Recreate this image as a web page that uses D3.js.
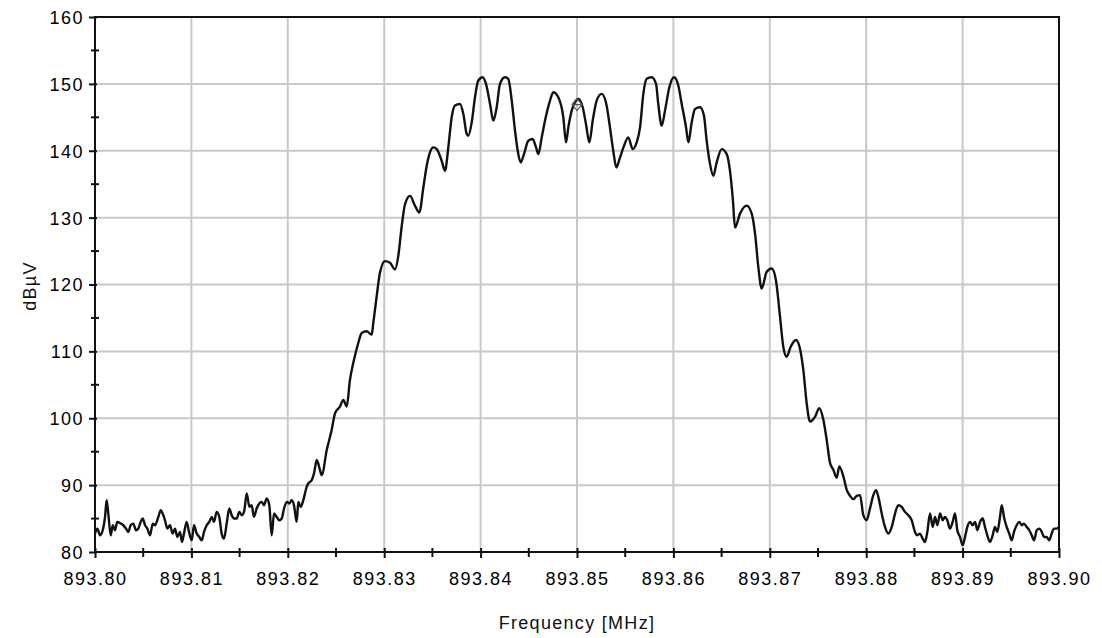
<!DOCTYPE html>
<html>
<head>
<meta charset="utf-8">
<script src="https://cdn.jsdelivr.net/npm/d3@7"></script>
<style>
  body { margin: 0; background: #fff; }
  .tick text { font-family: "Liberation Sans", Arial, sans-serif; font-size: 18px; letter-spacing: 1.5px; fill: #000; }
  .title { font-family: "Liberation Sans", Arial, sans-serif; font-size: 18px; letter-spacing: 1.3px; fill: #111; }
</style>
</head>
<body>
<div id="chart"></div>
<script>
// Spectrum trace (frequency in MHz, level in dBuV)
var freqs = [
  893.80000, 893.80024, 893.80052, 893.80080, 893.80104, 893.80121, 893.80138, 893.80163, 893.80184, 893.80207,
  893.80231, 893.80267, 893.80294, 893.80322, 893.80345, 893.80370, 893.80397, 893.80425, 893.80449, 893.80474,
  893.80495, 893.80519, 893.80543, 893.80571, 893.80599, 893.80622, 893.80657, 893.80682, 893.80702, 893.80726,
  893.80750, 893.80778, 893.80806, 893.80830, 893.80854, 893.80882, 893.80902, 893.80923, 893.80951, 893.80975,
  893.81003, 893.81027, 893.81055, 893.81082, 893.81107, 893.81131, 893.81159, 893.81186, 893.81211, 893.81234,
  893.81262, 893.81289, 893.81314, 893.81338, 893.81366, 893.81393, 893.81418, 893.81442, 893.81470, 893.81497,
  893.81522, 893.81546, 893.81574, 893.81601, 893.81625, 893.81649, 893.81677, 893.81704, 893.81729, 893.81753,
  893.81781, 893.81808, 893.81833, 893.81857, 893.81885, 893.81912, 893.81937, 893.81961, 893.81989, 893.82016,
  893.82040, 893.82064, 893.82092, 893.82109, 893.82134, 893.82161, 893.82196, 893.82213, 893.82248, 893.82272,
  893.82300, 893.82334, 893.82352, 893.82404, 893.82455, 893.82490, 893.82541, 893.82576, 893.82611, 893.82645,
  893.82679, 893.82731, 893.82767, 893.82818, 893.82870, 893.82887, 893.82922, 893.82956, 893.83008, 893.83060,
  893.83112, 893.83146, 893.83182, 893.83216, 893.83268, 893.83320, 893.83364, 893.83406, 893.83441, 893.83475,
  893.83509, 893.83545, 893.83596, 893.83631, 893.83665, 893.83700, 893.83734, 893.83786, 893.83821, 893.83856,
  893.83872, 893.83908, 893.83942, 893.83976, 893.84022, 893.84056, 893.84098, 893.84132, 893.84167, 893.84201,
  893.84253, 893.84287, 893.84323, 893.84357, 893.84391, 893.84416, 893.84450, 893.84495, 893.84540, 893.84575,
  893.84599, 893.84634, 893.84668, 893.84720, 893.84754, 893.84806, 893.84858, 893.84886, 893.84910, 893.84945,
  893.84979, 893.85013, 893.85059, 893.85093, 893.85128, 893.85163, 893.85204, 893.85256, 893.85304, 893.85337,
  893.85376, 893.85408, 893.85441, 893.85482, 893.85532, 893.85578, 893.85619, 893.85654, 893.85688, 893.85723,
  893.85775, 893.85820, 893.85843, 893.85879, 893.85913, 893.85958, 893.86006, 893.86051, 893.86086, 893.86131,
  893.86155, 893.86190, 893.86224, 893.86276, 893.86317, 893.86345, 893.86380, 893.86414, 893.86449, 893.86501,
  893.86553, 893.86587, 893.86618, 893.86639, 893.86691, 893.86760, 893.86812, 893.86847, 893.86881, 893.86916,
  893.86968, 893.87020, 893.87064, 893.87106, 893.87140, 893.87175, 893.87217, 893.87272, 893.87313, 893.87348,
  893.87383, 893.87417, 893.87469, 893.87514, 893.87555, 893.87590, 893.87625, 893.87659, 893.87694, 893.87721,
  893.87763, 893.87798, 893.87832, 893.87866, 893.87902, 893.87936, 893.87970, 893.88005, 893.88039, 893.88074,
  893.88102, 893.88126, 893.88161, 893.88195, 893.88229, 893.88265, 893.88299, 893.88333, 893.88368, 893.88402,
  893.88437, 893.88472, 893.88506, 893.88530, 893.88558, 893.88586, 893.88610, 893.88634, 893.88662, 893.88690,
  893.88714, 893.88738, 893.88766, 893.88794, 893.88817, 893.88841, 893.88869, 893.88897, 893.88921, 893.88945,
  893.88973, 893.89001, 893.89025, 893.89049, 893.89077, 893.89105, 893.89129, 893.89153, 893.89181, 893.89209,
  893.89232, 893.89256, 893.89284, 893.89312, 893.89336, 893.89360, 893.89388, 893.89406, 893.89429, 893.89457,
  893.89484, 893.89509, 893.89533, 893.89561, 893.89588, 893.89613, 893.89637, 893.89665, 893.89692, 893.89717,
  893.89741, 893.89769, 893.89796, 893.89821, 893.89844, 893.89872, 893.89899, 893.89924, 893.89948, 893.89976,
  893.90000
];

var levels = [
  82.75, 83.5, 82.5, 83.25, 85.25, 87.75, 85.75, 82.5, 84, 83.25,
  84.5, 84.25, 84, 83.5, 83, 84, 84.25, 83.25, 83.5, 84.5,
  85, 84, 83.5, 82.5, 84.25, 84, 85.25, 86.25, 85.75, 84.75,
  83.5, 84, 82.75, 83.5, 82.25, 83, 81.5, 82.75, 84.5, 83,
  81.75, 84, 82.75, 82.25, 81.75, 83, 84, 84.5, 85.25, 84.5,
  86, 85.25, 82.75, 82, 84.25, 86.5, 85.5, 85, 85, 86,
  85.5, 86, 88.75, 86.75, 87, 85.25, 86.5, 87.25, 87.5, 87,
  88, 87, 82.5, 85.75, 85.25, 84.75, 85, 86.5, 87.5, 87.25,
  87.75, 87, 84.5, 87.5, 86.75, 87.75, 89.75, 90.25, 90.75, 91.75,
  93.75, 92.25, 91.5, 95.25, 98.25, 100.75, 101.75, 102.75, 101.75, 105.75,
  108.25, 111.25, 112.75, 113, 112.5, 114.25, 118.25, 121.75, 123.5, 123.25,
  122.25, 124.25, 128.75, 132, 133.25, 131.75, 130.75, 134.5, 137.75, 139.75,
  140.5, 140.25, 138.5, 137, 140.5, 145, 146.75, 147, 145.5, 142.5,
  142.25, 144.25, 148, 150.5, 151, 150, 147, 144.5, 146.5, 150,
  151, 150.75, 147.5, 143, 139.5, 138.25, 139.5, 141.5, 141.75, 140.5,
  139.5, 142, 144.5, 147.5, 148.75, 148, 145, 141.25, 143.5, 146,
  147.25, 147.75, 146.5, 144, 141.25, 144.5, 147.5, 148.5, 147, 144,
  140, 137.5, 138.75, 140.5, 142, 140.25, 141.25, 143.5, 148.5, 150.75,
  151, 150, 147, 143.75, 146, 149.5, 151, 149.75, 147, 143.5,
  141.25, 144.25, 146.25, 146.5, 145.25, 141.5, 138, 136.25, 138.25, 140.25,
  139.5, 137, 132.5, 128.5, 130.6, 131.8, 130.6, 127.6, 122.6, 119.4,
  121.9, 122.4, 120.6, 115.2, 110.7, 109.2, 110.7, 111.7, 110.4, 107.2,
  102.2, 99.5, 100.2, 101.5, 99.8, 96.8, 93.3, 92.3, 91.1, 92.8,
  91.3, 89.3, 88.4, 87.9, 88.4, 88.5, 85.5, 84.75, 86.5, 88.5,
  89.25, 88.25, 85.75, 83.75, 82.75, 83.75, 85.75, 87, 86.75, 86,
  85.5, 84.75, 83, 82.5, 82.75, 82, 81.5, 83, 85.75, 83.75,
  85.25, 84, 85.75, 84.75, 85.25, 84.75, 83.5, 84.5, 85.75, 83.25,
  82.25, 81, 82.25, 83.75, 84.5, 84, 84.5, 83.25, 84.5, 85,
  83.75, 82.5, 81.5, 82.5, 83.75, 83, 85.25, 87, 85.25, 83.75,
  82.75, 81.75, 83, 84, 84.5, 84, 84.25, 83.75, 83.25, 82.5,
  81.75, 83.25, 83.5, 83, 82.25, 82.25, 81.75, 82.75, 83.5, 83.5,
  83.75
];

// centre marker
var markerFreq = [893.85];
var markerLevel = [146.9];

// axis ticks
var xTicks = [893.80, 893.81, 893.82, 893.83, 893.84, 893.85, 893.86, 893.87, 893.88, 893.89, 893.90];
var xMinorTicks = [893.805, 893.815, 893.825, 893.835, 893.845, 893.855, 893.865, 893.875, 893.885, 893.895];
var yTicks = [80, 90, 100, 110, 120, 130, 140, 150, 160];
var yMinorTicks = [85, 95, 105, 115, 125, 135, 145, 155];

var svgWidth = 1102;
var svgHeight = 638;
var margin = { top: 17, right: 43, bottom: 86, left: 95 };
var width = svgWidth - margin.left - margin.right;
var height = svgHeight - margin.top - margin.bottom;

var svg = d3.select("#chart")
  .append("svg")
  .attr("width", svgWidth)
  .attr("height", svgHeight);

var chartGroup = svg.append("g")
  .attr("transform", `translate(${margin.left}, ${margin.top})`);

var xScale = d3.scaleLinear().domain([893.80, 893.90]).range([0, width]);
var yScale = d3.scaleLinear().domain([80, 160]).range([height, 0]);

// grid
chartGroup.append("g")
  .selectAll("line")
  .data(xTicks.slice(1, -1))
  .enter()
  .append("line")
  .attr("x1", d => xScale(d)).attr("x2", d => xScale(d))
  .attr("y1", 0).attr("y2", height)
  .attr("stroke", "#c8c8c8")
  .attr("stroke-width", 2);

chartGroup.append("g")
  .selectAll("line")
  .data(yTicks.slice(1, -1))
  .enter()
  .append("line")
  .attr("x1", 0).attr("x2", width)
  .attr("y1", d => yScale(d)).attr("y2", d => yScale(d))
  .attr("stroke", "#c8c8c8")
  .attr("stroke-width", 2);

// trace
var data = freqs.map((f, i) => ({ f: f, v: levels[i] }));

var line = d3.line()
  .x(d => xScale(d.f))
  .y(d => yScale(d.v))
  .curve(d3.curveMonotoneX);

chartGroup.append("path")
  .datum(data)
  .attr("d", line)
  .attr("fill", "none")
  .attr("stroke", "#111")
  .attr("stroke-width", 2.4)
  .attr("stroke-linejoin", "round");

// marker
chartGroup.selectAll(".marker")
  .data(markerFreq)
  .enter()
  .append("path")
  .attr("class", "marker")
  .attr("transform", (d, i) => `translate(${xScale(d)}, ${yScale(markerLevel[i])})`)
  .attr("d", "M0,-6 L5,0 L0,6 L-5,0 Z M-5,0 L5,0")
  .attr("fill", "none")
  .attr("stroke", "#555")
  .attr("stroke-width", 1.2);

// frame
chartGroup.append("rect")
  .attr("x", 0).attr("y", 0)
  .attr("width", width).attr("height", height)
  .attr("fill", "none")
  .attr("stroke", "#111")
  .attr("stroke-width", 2);

// axes
var bottomAxis = d3.axisBottom(xScale)
  .tickValues(xTicks)
  .tickFormat(d3.format(".2f"))
  .tickSize(6)
  .tickPadding(14);

var xAxis = chartGroup.append("g")
  .attr("transform", `translate(0, ${height})`)
  .call(bottomAxis);
xAxis.select(".domain").remove();
xAxis.selectAll(".tick line").attr("y1", -4).attr("stroke", "#111").attr("stroke-width", 2);

var leftAxis = d3.axisLeft(yScale)
  .tickValues(yTicks)
  .tickSize(6)
  .tickPadding(5);

var yAxis = chartGroup.append("g").call(leftAxis);
yAxis.select(".domain").remove();
yAxis.selectAll(".tick line").attr("x1", 2).attr("stroke", "#111").attr("stroke-width", 2);
yAxis.selectAll(".tick text").attr("dy", "0.36em");

// minor ticks
chartGroup.append("g")
  .selectAll("line")
  .data(xMinorTicks)
  .enter()
  .append("line")
  .attr("x1", d => xScale(d)).attr("x2", d => xScale(d))
  .attr("y1", height - 4).attr("y2", height + 5)
  .attr("stroke", "#111")
  .attr("stroke-width", 2);

chartGroup.append("g")
  .selectAll("line")
  .data(yMinorTicks)
  .enter()
  .append("line")
  .attr("x1", -4).attr("x2", 4)
  .attr("y1", d => yScale(d)).attr("y2", d => yScale(d))
  .attr("stroke", "#111")
  .attr("stroke-width", 2);

// titles
svg.append("text")
  .attr("class", "title")
  .attr("x", margin.left + width / 2)
  .attr("y", 629)
  .attr("text-anchor", "middle")
  .text("Frequency [MHz]");

svg.append("text")
  .attr("class", "title")
  .attr("transform", "translate(36, 286) rotate(-90)")
  .attr("text-anchor", "middle")
  .text("dBµV");
</script>
</body>
</html>
